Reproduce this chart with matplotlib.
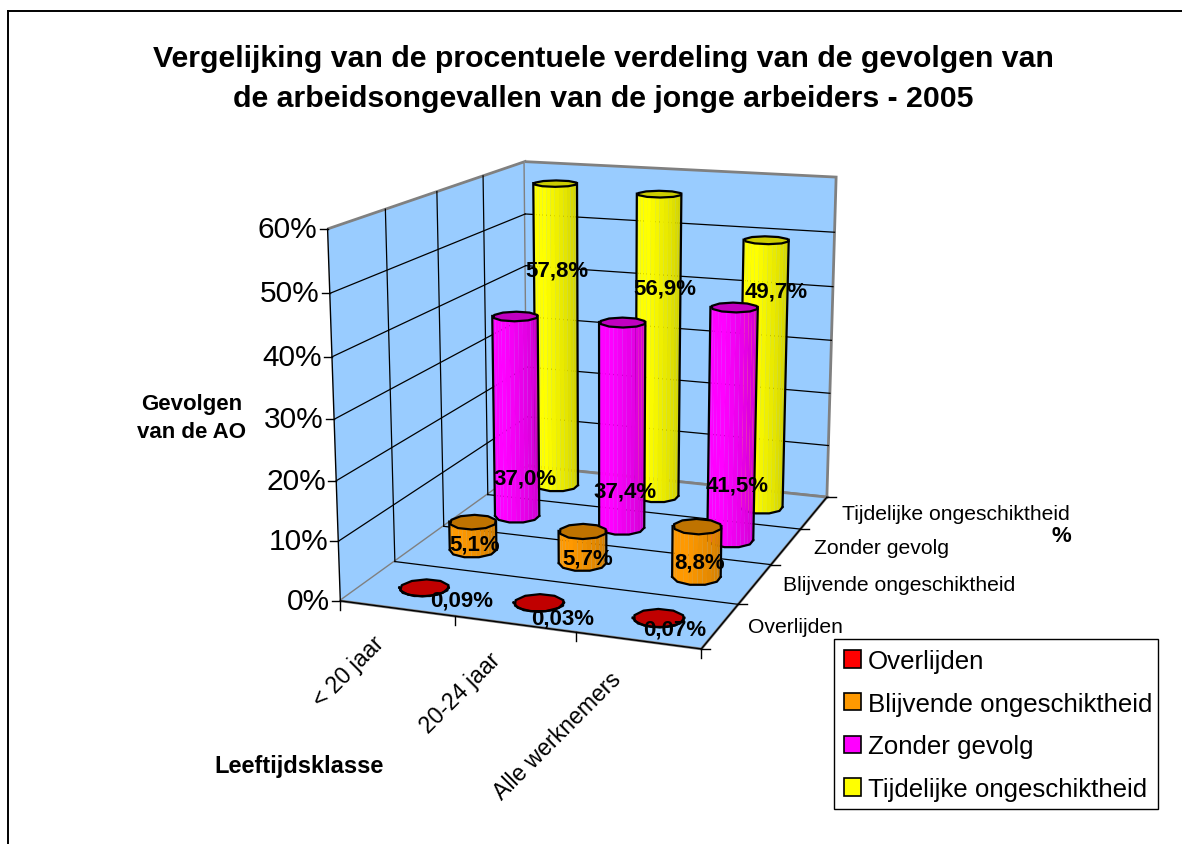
import numpy as np
import matplotlib
matplotlib.use("Agg")
import matplotlib.pyplot as plt
from matplotlib.patches import Patch, Rectangle
from matplotlib.lines import Line2D
from mpl_toolkits.mplot3d import proj3d
from mpl_toolkits.mplot3d.art3d import Poly3DCollection

plt.rcParams["font.family"] = ["Liberation Sans", "DejaVu Sans"]

WIDTH = 1182
HEIGHT = 845

# data, in percent
categories = ["< 20 jaar", "20-24 jaar", "Alle werknemers"]
series_names = ["Overlijden", "Blijvende ongeschiktheid", "Zonder gevolg", "Tijdelijke ongeschiktheid"]
overlijden = [0.09, 0.03, 0.07]
blijvende = [5.1, 5.7, 8.8]
zonder = [37.0, 37.4, 41.5]
tijdelijke = [57.8, 56.9, 49.7]
z_ticks = [0, 10, 20, 30, 40, 50, 60]

series_values = [overlijden, blijvende, zonder, tijdelijke]
series_colors = ["#FF0000", "#FF9900", "#FF00FF", "#FFFF00"]
cap_colors = ["#C00000", "#BF7300", "#C000C0", "#CCCC00"]

# where the value labels sit, in pixels from the top of their bar (dx, dy downwards)
label_offsets = [
    [(38, 13), (24, 16), (16, 11)],
    [(2, 22), (5, 27), (3, 36)],
    [(10, 162), (3, 169), (3, 178)],
    [(2, 87), (6, 94), (10, 51)],
]
category_shift = [(-31, 3), (-32, 4), (-34, 7)]

ELEV = 14.008
AZIM = -70.203
RADIUS = 0.2
FACETS = 16
RIM_SIDES = 10

fig = plt.figure(figsize=(WIDTH / 100, HEIGHT / 100), dpi=100, facecolor="white")
ax = fig.add_axes([259.1 / WIDTH, 123.8 / HEIGHT, 669 / WIDTH, 669 / HEIGHT], projection="3d")
ax.set_proj_type("persp", focal_length=0.544)
ax.view_init(elev=ELEV, azim=AZIM)
ax.set_box_aspect((1.002, 1.333, 1))
ax.patch.set_alpha(0)
ax.computed_zorder = False

ax.set_xlim(0, len(categories))
ax.set_ylim(0, len(series_names))
ax.set_zlim(0, 60)
ax.set_xticks([])
ax.set_yticks([])
ax.set_zticks([])
ax.grid(False)

for axis in (ax.xaxis, ax.yaxis, ax.zaxis):
    axis.set_pane_color("#99CCFF")
    axis.pane.set_edgecolor("#808080")
    axis.pane.set_linewidth(2)
    axis.line.set_color("none")


def to_pixels(x, y, z):
    px, py, _ = proj3d.proj_transform(x, y, z, ax.get_proj())
    return ax.transData.transform((px, py))


def fig_line(p, q, color="black", lw=1.0):
    fig.add_artist(Line2D([p[0] / WIDTH, q[0] / WIDTH], [p[1] / HEIGHT, q[1] / HEIGHT],
                          color=color, lw=lw, zorder=5))


def fig_text(x, y, s, **kw):
    fig.text(x / WIDTH, 1 - y / HEIGHT, s, **kw)


ax.apply_aspect()
nx = len(categories)
ny = len(series_names)

# grid lines on the floor and the walls
for j in range(1, ny):
    ax.plot([0, nx], [j, j], [0, 0], color="black", lw=0.9, zorder=1)
    ax.plot([0, 0], [j, j], [0, 60], color="black", lw=0.9, zorder=1)
for v in z_ticks[1:-1]:
    ax.plot([0, 0], [0, ny], [v, v], color="black", lw=0.9, zorder=1)
    ax.plot([0, nx], [ny, ny], [v, v], color="black", lw=0.9, zorder=1)

# cylinders, back row first
theta = np.linspace(0, 2 * np.pi, RIM_SIDES + 1) + np.radians(AZIM)
view = np.radians(AZIM)
arc = np.linspace(view - np.pi / 2, view + np.pi / 2, FACETS + 1)
rim_arc = np.linspace(view - np.pi / 2, view + np.pi / 2, RIM_SIDES // 2 + 1)
for j in range(ny - 1, -1, -1):
    for i in range(nx):
        cx = i + 0.5
        cy = j + 0.5
        top = series_values[j][i]
        rgb = np.array(matplotlib.colors.to_rgb(series_colors[j]))
        faces = []
        colors = []
        for a, b in zip(arc[:-1], arc[1:]):
            xs = cx + RADIUS * np.cos([a, b])
            ys = cy + RADIUS * np.sin([a, b])
            faces.append([(xs[0], ys[0], 0), (xs[1], ys[1], 0), (xs[1], ys[1], top), (xs[0], ys[0], top)])
            # bright on the left, darker to the right
            f = (a + b) / 2
            shade = 1 - 0.22 * np.clip((f - view + np.pi / 2) / np.pi - 0.35, 0, 1) / 0.65
            colors.append(rgb * shade)
        ax.add_collection3d(Poly3DCollection(faces, facecolors=colors, edgecolors=colors, linewidths=0.1, zorder=10 + 2 * (ny - j)))
        rim = [(cx + RADIUS * np.cos(t), cy + RADIUS * np.sin(t), top) for t in theta]
        ax.add_collection3d(Poly3DCollection([rim], facecolors=cap_colors[j], edgecolors="black", linewidths=1.6, zorder=11 + 2 * (ny - j)))
        ax.plot(cx + RADIUS * np.cos(rim_arc), cy + RADIUS * np.sin(rim_arc), [0] * len(rim_arc), color="black", lw=1.6, zorder=11 + 2 * (ny - j))
        for t in (arc[0], arc[-1]):
            ax.plot([cx + RADIUS * np.cos(t)] * 2, [cy + RADIUS * np.sin(t)] * 2, [0, top], color="black", lw=1.6, zorder=11 + 2 * (ny - j))

# axis lines and tick marks, placed with the axes' own projection
fig_line(to_pixels(0, 0, 0), to_pixels(nx, 0, 0))
fig_line(to_pixels(nx, 0, 0), to_pixels(nx, ny, 0))
fig_line(to_pixels(0, 0, 0), to_pixels(0, 0, 60))
for i in range(nx + 1):
    p = to_pixels(i, 0, 0)
    fig_line(p, (p[0], p[1] - 9))
for j in range(ny + 1):
    p = to_pixels(nx, j, 0)
    fig_line(p, (p[0] + 9, p[1]))
for v in z_ticks:
    p = to_pixels(0, 0, v)
    fig_line(p, (p[0] - 8, p[1]))
    fig.text((p[0] - 10) / WIDTH, p[1] / HEIGHT, f"{v}%", fontsize=21.5, ha="right", va="center")

for i, name in enumerate(categories):
    p = to_pixels(i + 0.5, 0, 0)
    dx, dy = category_shift[i]
    fig.text((p[0] + 6 + dx) / WIDTH, (p[1] - 20 - dy) / HEIGHT, name, fontsize=16.6, rotation=45, ha="right", va="top", rotation_mode="anchor")
for j, name in enumerate(series_names):
    p = to_pixels(nx, j + 0.5, 0)
    fig.text((p[0] + 28) / WIDTH, (p[1] - 1) / HEIGHT, name, fontsize=15.2, ha="left", va="center")

# value labels on top of everything
for j in range(ny):
    for i in range(nx):
        p = to_pixels(i + 0.5, j + 0.5, series_values[j][i])
        dx, dy = label_offsets[j][i]
        value = series_values[j][i]
        text = f"{value:.2f}%" if value < 1 else f"{value:.1f}%"
        fig.text((p[0] + dx) / WIDTH, (p[1] - dy) / HEIGHT, text.replace(".", ","), fontsize=16, fontweight="bold", ha="center", va="center", zorder=6)

fig_text(603, 79, "Vergelijking van de procentuele verdeling van de gevolgen van\nde arbeidsongevallen van de jonge arbeiders - 2005",
         fontsize=21.8, fontweight="bold", ha="center", va="center", linespacing=1.52)
fig_text(192, 418.5, "Gevolgen\nvan de AO", fontsize=16, fontweight="bold", ha="center", va="center", linespacing=1.42)
fig_text(299, 767, "Leeftijdsklasse", fontsize=17, fontweight="bold", ha="center", va="center")
fig_text(1061, 537, "%", fontsize=16, fontweight="bold", ha="center", va="center")

# legend box drawn apart, the text does not leave equal margins in it
fig.add_artist(Rectangle((834 / WIDTH, 1 - 810 / HEIGHT), 324 / WIDTH, 170 / HEIGHT, facecolor="white", edgecolor="black", lw=1.0, zorder=4))
handles = [Patch(facecolor=c, edgecolor="black", lw=1.2) for c in series_colors]
fig.legend(handles, series_names, loc="upper left", bbox_to_anchor=(834 / WIDTH, 1 - 640 / HEIGHT), fontsize=18.6,
           frameon=False, handlelength=0.66, handleheight=0.66, handletextpad=0.27,
           labelspacing=0.72, borderaxespad=0, borderpad=0.39)

# chart frame, cut off by the edge of the picture
fig_line((8, 0), (8, HEIGHT - 12), lw=1.4)
fig_line((8, HEIGHT - 12), (WIDTH, HEIGHT - 12), lw=1.4)

fig.savefig("out.png", dpi=100)
